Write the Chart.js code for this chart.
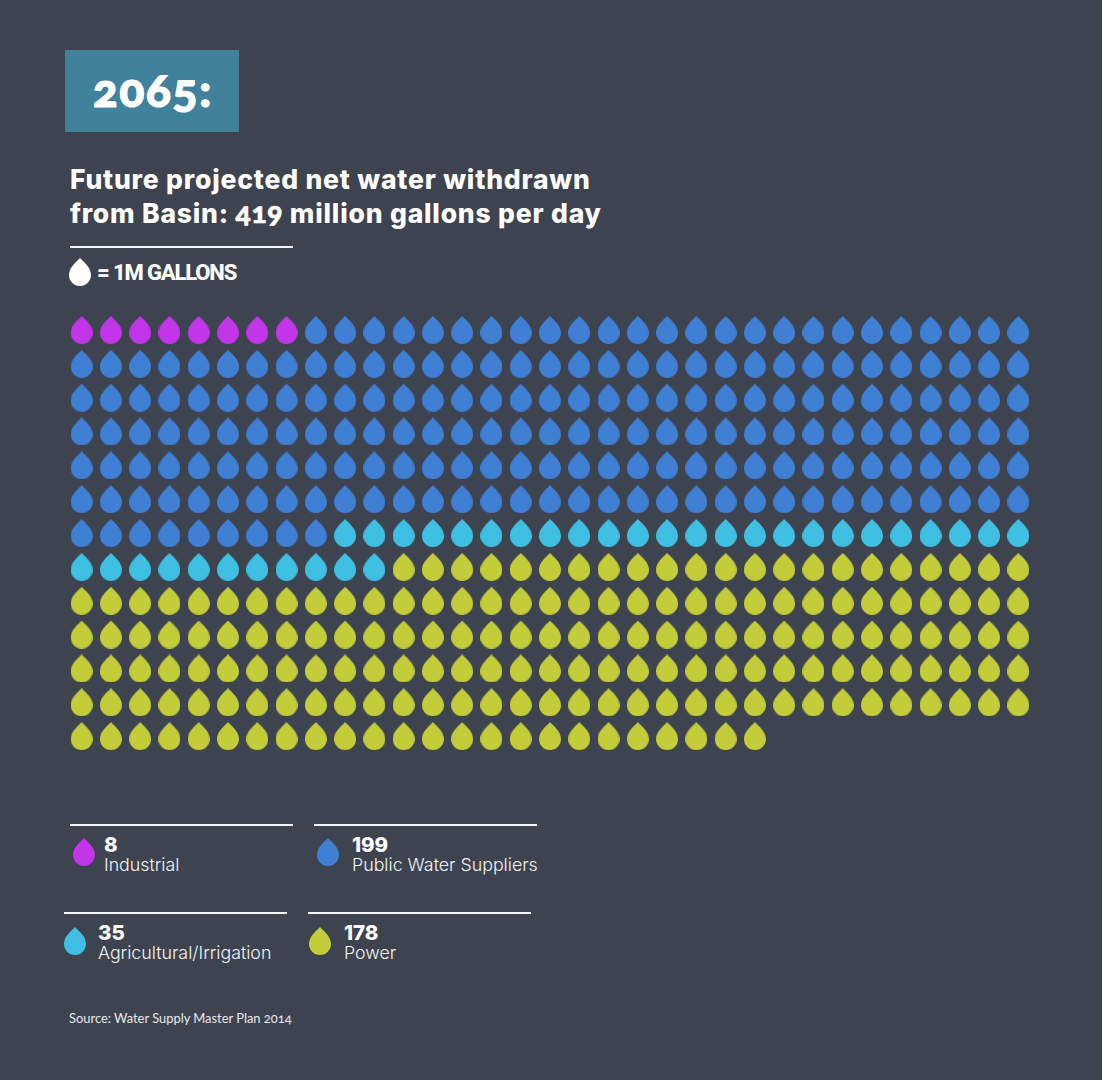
<!DOCTYPE html>
<html>
<head>
<meta charset="utf-8">
<script src="https://cdn.jsdelivr.net/npm/chart.js@4"></script>
<style>
html, body { margin: 0; padding: 0; background: #3e4350; }
#page { position: relative; width: 1102px; height: 1080px; background: #3e4350; overflow: hidden; color: #fff; font-family: Inter, sans-serif; }
#page div, #page img, #page canvas { position: absolute; white-space: nowrap; }
.box { left: 65px; top: 50px; width: 174px; height: 82px; background: #40829c; }
.year { left: 93px; top: 60px; font: 900 46px/60px Lato, sans-serif; font-variant-numeric: oldstyle-nums; -webkit-text-stroke: 1.2px #fff; letter-spacing: 1.7px; }
.title { left: 70px; font: 800 26.5px/34px Inter, sans-serif; letter-spacing: 0.8px; }
.title span { font: 900 28px/0 Lato, sans-serif; font-variant-numeric: oldstyle-nums; -webkit-text-stroke: 0.6px #fff; }
.rule { height: 2px; background: #f2f3f5; width: 223px; }
.key { left: 97px; top: 260px; font: 800 22px/26px Roboto, sans-serif; letter-spacing: -1.15px; }
.num { font: 800 20.5px/24px Inter, sans-serif; }
.lab { font: 300 17.8px/24px Inter, sans-serif; color: #f2f3f5; }
.source { left: 69px; top: 1009px; font: 400 12.9px/18px Lato, sans-serif; font-variant-numeric: oldstyle-nums; color: #e8e9ec; }
#grid { left: 67.36px; top: 313px; }
</style>
</head>
<body>
<div id="page">
  <div class="box"></div>
  <div class="year">2065:</div>
  <div class="title" style="top:162px">Future projected net water withdrawn</div>
  <div class="title" style="top:196px">from Basin: <span>419</span> million gallons per day</div>
  <div class="rule" style="left:70px;top:246px"></div>
  <img id="keyDrop" style="left:69px;top:258px">
  <div class="key">= 1M GALLONS</div>
  <canvas id="grid" width="966" height="440"></canvas>
  <div class="source">Source: Water Supply Master Plan 2014</div>
</div>
<script>
// Water withdrawn per category, one drop = 1M gallons
var categories = ['Industrial', 'Public Water Suppliers', 'Agricultural/Irrigation', 'Power'];
var gallons = [8, 199, 35, 178];
var colors = ['#c235e8', '#3f7fd4', '#3fc0e2', '#c3cd3a'];
var perRow = 33;
var rowCount = 13;

// Legend layout: rule, drop and text offsets for each category
var legendSpots = [
  { rule: 70, ruleY: 824, drop: 73, dropY: 838, text: 104, numY: 833, labY: 853 },
  { rule: 314, ruleY: 824, drop: 317, dropY: 838, text: 352, numY: 833, labY: 853 },
  { rule: 64, ruleY: 912, drop: 64, dropY: 927, text: 98, numY: 921, labY: 941 },
  { rule: 308, ruleY: 912, drop: 309, dropY: 927, text: 344, numY: 921, labY: 941 }
];

function makeDrop(color) {
  var c = document.createElement('canvas');
  c.width = 22; c.height = 28;
  var g = c.getContext('2d');
  g.fillStyle = color;
  g.beginPath();
  g.moveTo(11, 0);
  g.bezierCurveTo(16, 5, 22, 10, 22, 17);
  g.arc(11, 17, 11, 0, Math.PI);
  g.bezierCurveTo(0, 10, 6, 5, 11, 0);
  g.closePath();
  g.fill();
  return c;
}

// Lay the drops out row by row, category after category
var datasets = [];
var n = 0;
categories.forEach(function(name, i) {
  var pts = [];
  for (var k = 0; k < gallons[i]; k++) {
    pts.push({ x: n % perRow, y: Math.floor(n / perRow) });
    n++;
  }
  datasets.push({ label: name, data: pts, pointStyle: makeDrop(colors[i]), pointRadius: 11, pointHoverRadius: 11 });
});

new Chart(document.getElementById('grid'), {
  type: 'scatter',
  data: { datasets: datasets },
  options: {
    responsive: false, animation: false,
    layout: { padding: 0, autoPadding: false },
    plugins: { legend: { display: false }, tooltip: { enabled: false } },
    scales: {
      x: { display: false, min: -0.5, max: perRow - 0.5 },
      y: { display: false, min: -0.5, max: rowCount - 0.5, reverse: true }
    }
  }
});

document.getElementById('keyDrop').src = makeDrop('#ffffff').toDataURL();

// Legend
var page = document.getElementById('page');
function addEl(tag, cls, left, top, text) {
  var el = document.createElement(tag);
  el.className = cls;
  el.style.left = left + 'px';
  el.style.top = top + 'px';
  if (text !== undefined) el.textContent = text;
  page.appendChild(el);
  return el;
}
categories.forEach(function(name, i) {
  var s = legendSpots[i];
  addEl('div', 'rule', s.rule, s.ruleY);
  addEl('img', '', s.drop, s.dropY).src = makeDrop(colors[i]).toDataURL();
  addEl('div', 'num', s.text, s.numY, gallons[i]);
  addEl('div', 'lab', s.text, s.labY, name);
});
</script>
</body>
</html>
